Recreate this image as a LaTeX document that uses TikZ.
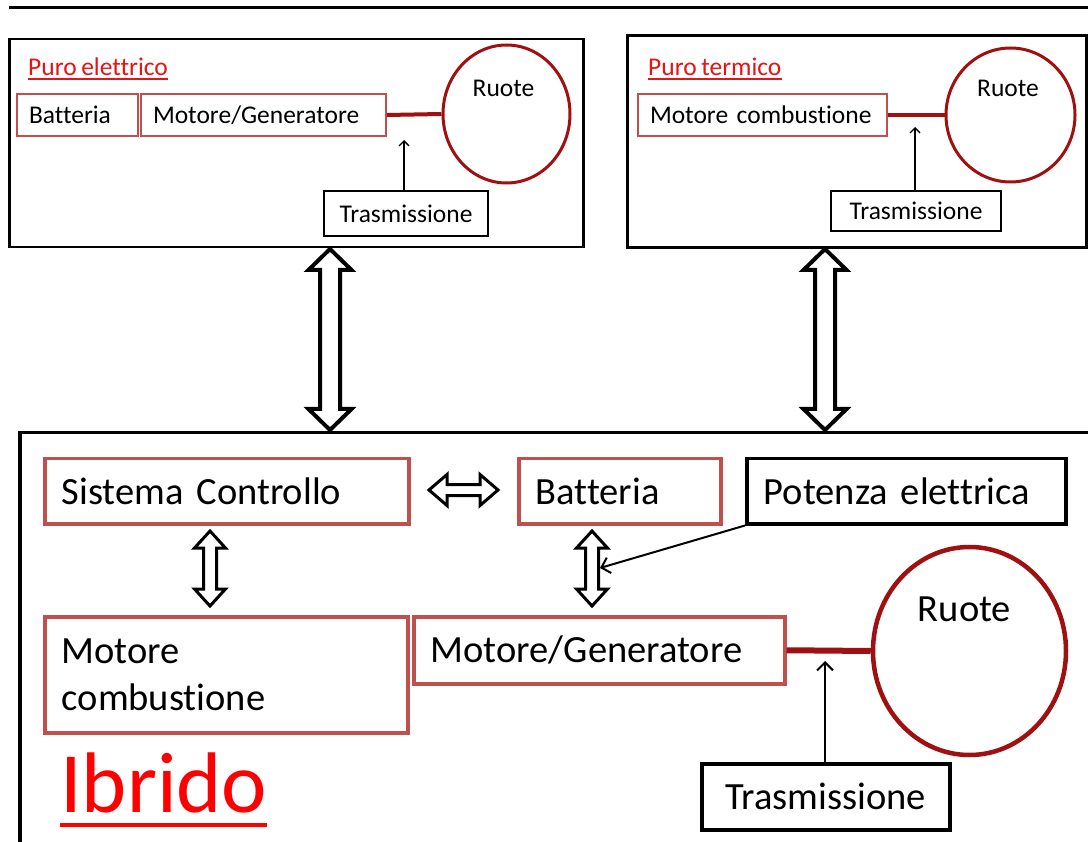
\documentclass[tikz,border=0pt]{standalone}
\usepackage{fontspec}
\setmainfont[Ligatures=NoCommon, WordSpace=0.8]{Carlito}
\usetikzlibrary{arrows.meta,shapes.geometric}
\definecolor{boxred}{RGB}{192,80,77}
\definecolor{wheelred}{RGB}{160,16,16}
\definecolor{titlered}{RGB}{230,20,20}
\definecolor{ibred}{RGB}{255,0,0}
% vertical hollow double arrow: x, ytop, ybot, half head, half shaft, head length, line width
\newcommand\VArr[7]{\draw[line width=#7, fill=white, line join=miter, miter limit=20]
 (#1,#2) -- (#1+#4,#2+#6) -- (#1+#5,#2+#6) -- (#1+#5,#3-#6) -- (#1+#4,#3-#6) -- (#1,#3)
 -- (#1-#4,#3-#6) -- (#1-#5,#3-#6) -- (#1-#5,#2+#6) -- (#1-#4,#2+#6) -- cycle;}
% horizontal hollow double arrow: y, xleft, xright, half head, half shaft, head length, line width
\newcommand\HArr[7]{\draw[line width=#7, fill=white, line join=miter, miter limit=20]
 (#2,#1) -- (#2+#6,#1-#4) -- (#2+#6,#1-#5) -- (#3-#6,#1-#5) -- (#3-#6,#1-#4) -- (#3,#1)
 -- (#3-#6,#1+#4) -- (#3-#6,#1+#5) -- (#2+#6,#1+#5) -- (#2+#6,#1+#4) -- (#2,#1) -- cycle;}
\tikzset{
  smallfont/.style={font=\fontsize{25.5}{30}\selectfont},
  bigfont/.style={font=\fontsize{38.5}{47}\selectfont},
  frame/.style={draw=black, line width=2.5pt},
  srbox/.style={draw=boxred, line width=2pt, anchor=north west, inner ysep=0pt, inner xsep=12pt, align=left, smallfont},
  sbbox/.style={draw=black, line width=2pt, anchor=north west, inner sep=0pt, align=center, smallfont},
  brbox/.style={draw=boxred, line width=3.5pt, anchor=north west, inner ysep=0pt, inner xsep=17pt, align=left, bigfont},
  bbbox/.style={draw=black, line width=3.5pt, anchor=north west, inner ysep=0pt, inner xsep=17pt, align=left, bigfont},
  wheel/.style={draw=wheelred, ellipse, inner sep=0pt},
  shaftline/.style={draw=wheelred, line width=#1},
  thinarrow/.style={draw=black, line width=1.3pt, -{Straight Barb[length=5pt,width=10pt]}},
  midarrow/.style={draw=black, line width=2pt, -{Straight Barb[length=8pt,width=16pt]}},
  title/.style={anchor=base west, inner sep=0pt, text=titlered, smallfont},
}
\begin{document}
\begin{tikzpicture}[x=1pt,y=-1pt]
\useasboundingbox (0,0) rectangle (1088,842);
\clip (0,0) rectangle (1088,842);
\fill[white] (0,0) rectangle (1088,842);
% top rule
\draw[line width=3.5pt] (9,7.7) -- (1095,7.7);

% ---------- Puro elettrico ----------
\node[frame, anchor=north west, minimum width=574, minimum height=208, inner sep=0] (pel) at (8,38) {};
\node[title] (pelt) at (28,76) {Puro elettrico};
\draw[titlered, line width=1.5pt] ([yshift=-3pt]pelt.base west) -- ([yshift=-3pt]pelt.base east);
\node[srbox, text width=97, minimum height=42] (batt1) at (16,93) {Batteria};
\node[srbox, text width=221, minimum height=42] (mg1) at (140,93) {Motore/Generatore};
\node[wheel, line width=3pt, minimum width=127, minimum height=138] (r1) at (506.5,114) {};
\node[anchor=base, inner sep=0, smallfont] (r1t) at (503.5,97) {Ruote};
\draw[shaftline=4pt] (mg1.east) -- (r1.west);
\node[sbbox, minimum width=164, minimum height=45] (tr1) at (323,190) {Trasmissione};
\coordinate (tip1) at (404,140);
\draw[thinarrow] (tr1.north -| tip1) -- (tip1);

% ---------- Puro termico ----------
\node[frame, anchor=north west, minimum width=459, minimum height=212, inner sep=0] (pte) at (626,34.5) {};
\node[title] (ptet) at (648,76) {Puro termico};
\draw[titlered, line width=1.5pt] ([yshift=-3pt]ptet.base west) -- ([yshift=-3pt]ptet.base east);
\node[srbox, text width=225, minimum height=42] (mc1) at (637,93) {Motore combustione};
\node[wheel, line width=3pt, minimum width=129, minimum height=134] (r2) at (1010.5,115) {};
\node[anchor=base, inner sep=0, smallfont] (r2t) at (1008,97) {Ruote};
\draw[shaftline=4pt] (mc1.east) -- (r2.west);
\node[sbbox, minimum width=170, minimum height=40] (tr2) at (830,190) {Trasmissione};
\coordinate (tip2) at (915,127);
\draw[thinarrow] (tr2.north -| tip2) -- (tip2);

% ---------- big link arrows ----------
\VArr{330}{249}{430}{21.5}{10}{21}{4pt}
\VArr{825}{249}{430}{21.5}{10}{21}{4pt}

% ---------- Ibrido ----------
\draw[line width=3.5pt] (20,880) -- (20,432.5) -- (1100,432.5);
\node[brbox, text width=330, minimum height=65] (sc) at (43,457) {Sistema Controllo};
\node[brbox, text width=168, minimum height=65] (batt2) at (517,457) {Batteria};
\node[bbbox, text width=285, minimum height=65] (pe) at (745,457) {Potenza elettrica};
\node[brbox, text width=329, minimum height=116] (mc2) at (43,615) {Motore\\combustione};
\node[brbox, text width=337, minimum height=67] (mg2) at (412,615) {Motore/Generatore};
\node[wheel, line width=4.5pt, minimum width=193, minimum height=208] (r3) at (969.5,651) {};
\node[anchor=base, inner sep=0, bigfont] (r3t) at (964.5,621.5) {Ruote};
\draw[shaftline=6pt] (mg2.east) -- (r3.west);
\node[bbbox, inner xsep=0pt, align=center, text width=248, minimum height=66] (tr3) at (700,762) {Trasmissione};
\coordinate (tip3) at (825,661);
\draw[midarrow] (tr3.north -| tip3) -- (tip3);

\HArr{490}{429}{498}{15.5}{5.5}{18}{3pt}
\VArr{210}{531}{606}{15.5}{6.5}{17}{3pt}
\VArr{592}{531}{606}{15.5}{6.5}{17}{3pt}
\coordinate (tip4) at (600,568);
\draw[midarrow] (pe.south west) -- (tip4);

\node[anchor=base west, inner sep=0, text=ibred, font=\fontsize{86}{96}\selectfont] (ib) at (60,812) {Ibrido};
\draw[ibred, line width=4.6pt] (60,825) -- (267,825);
\end{tikzpicture}
\end{document}
